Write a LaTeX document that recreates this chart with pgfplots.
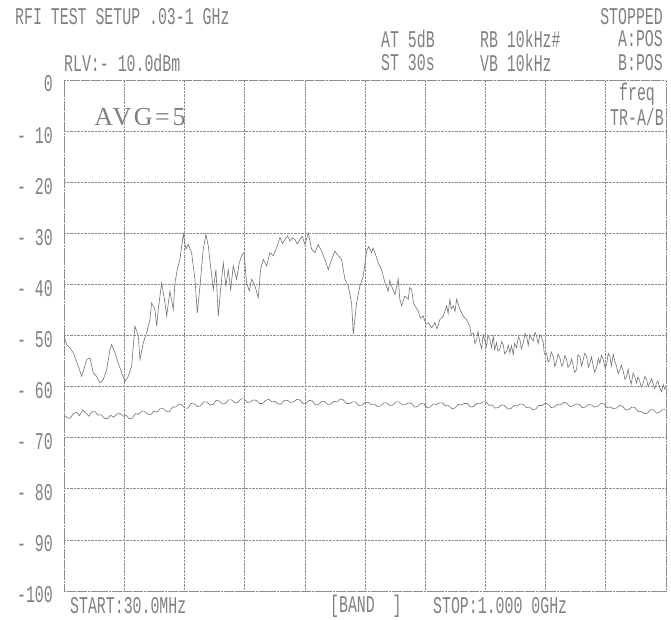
\documentclass[border=0pt]{standalone}
\usepackage{fontspec}
\usepackage{pgfplots}
\pgfplotsset{compat=1.18}
\newfontfamily\lcd[FakeStretch=0.62]{Liberation Mono}
\newfontfamily\avgfont[LetterSpace=10]{Liberation Serif}
\definecolor{scr}{gray}{0.5}
\definecolor{grd}{gray}{0.55}
\definecolor{trc}{gray}{0.45}
\begin{document}
\begin{tikzpicture}[x=1pt,y=1pt]
\useasboundingbox (0,0) rectangle (671,620);
\begin{axis}[
  at={(64pt,29pt)}, anchor=south west,
  scale only axis, width=602pt, height=511pt,
  xmin=30, xmax=1000, ymin=-100, ymax=0,
  xtick={30,127,224,321,418,515,612,709,806,903,1000},
  xticklabels={},
  ytick={-100,-90,...,0},
  yticklabels={-100,- 90,- 80,- 70,- 60,- 50,- 40,- 30,- 20,- 10,0},
  yticklabel style={font=\lcd\fontsize{24}{25}\selectfont, text=scr, anchor=east, inner sep=0pt, xshift=-11pt, yshift=-4pt},
  major tick length=0pt,
  grid=major,
  grid style={grd, densely dotted, line width=0.6pt},
  axis line style={grd, densely dotted, line width=0.6pt},
  clip=true,
]
\addplot[trc, line width=0.6pt, no marks] table {
30 -50.1
34.3 -51.8
40 -52.5
45.0 -53.4
53.1 -56.0
58.4 -58.0
61.1 -57.0
66.5 -54.7
71.9 -54.4
77.2 -57.3
82.6 -58.0
88.0 -59.3
93.3 -58.6
98.7 -56.7
104.1 -52.7
106.8 -51.8
112.1 -53.4
117.5 -55.4
122.9 -57.3
128.2 -59.0
133.6 -58.0
139.0 -56.0
144.3 -48.2
149.7 -50.1
152.4 -54.7
157.8 -51.4
163.1 -49.5
168.5 -46.9
171.2 -43.6
176.6 -44.9
179.3 -48.2
181.9 -44.9
187.3 -39.7
192.7 -43.6
195.4 -46.2
200.7 -41.3
206.1 -44.9
208.8 -39.7
212.5 -37.1
216.8 -35.1
222.2 -30.2
226.5 -33.1
230.3 -32.2
235.6 -33.8
241.0 -39.0
244.8 -45.6
249.1 -40.3
254.4 -33.1
258.7 -30.2
262.5 -32.5
266.2 -36.4
270.5 -41.0
274.8 -37.1
278.6 -46.2
282.9 -40.3
286.7 -35.8
290.9 -40.3
294.7 -37.1
298.5 -41.0
302.8 -36.4
308.1 -39.0
312.4 -35.8
316.2 -34.4
320.0 -33.8
324.2 -39.7
328.5 -41.3
332.3 -39.0
337.7 -40.3
343.0 -42.6
346.8 -37.1
351.1 -35.1
356.5 -36.4
361.8 -33.8
367.2 -34.4
373.6 -32.5
377.9 -30.8
382 -32.0
386.0 -31.2
390 -30.5
394.1 -31.5
398 -30.9
402.1 -31.2
406 -32.1
410.2 -31.2
414 -30.6
418.2 -32.2
423.6 -29.9
429.0 -33.1
434.3 -33.8
439.7 -32.2
445.1 -33.5
450.4 -35.1
455.8 -37.1
461.2 -35.1
466.5 -33.5
471.9 -34.4
477.3 -35.1
482.6 -39.0
488.0 -40.3
493.4 -43.6
496.1 -49.8
501.5 -43.6
506.8 -40.3
512.2 -38.4
517.6 -33.5
521 -32.6
525.6 -33.8
528 -32.9
531.0 -33.8
536.4 -35.8
541.7 -37.1
547.1 -39.7
552.5 -41.3
555 -39.2
557.8 -40.3
563.2 -42.0
566 -40.4
568.6 -39.0
571 -42.8
574.0 -44.2
579.3 -42.3
584.7 -42.9
587 -40.6
590.1 -41.0
593 -43.5
595.4 -44.2
600.8 -45.2
604 -46.6
608.9 -46.2
613 -47.8
616.9 -47.5
622.3 -48.5
627.7 -47.5
631 -48.7
635.7 -46.9
641.1 -46.2
646.5 -44.2
649 -45.7
651.8 -42.9
654 -44.8
657.2 -44.2
660 -45.3
662.6 -42.9
667.9 -44.9
673.3 -46.2
678.7 -46.9
684.0 -48.2
686 -49.8
689.4 -49.5
692 -51.6
694.8 -50.8
697 -49.2
700.2 -51.4
703 -52.6
705.5 -49.8
708 -51.0
710.9 -52.1
713 -49.9
716.3 -50.8
719 -52.4
721.6 -50.1
724 -52.8
727.0 -51.4
729 -53.0
732.4 -52.7
735 -51.2
737.7 -51.8
740 -53.6
743.1 -53.1
746 -51.9
748.5 -53.4
751 -52.0
753.9 -53.7
756 -51.5
759.2 -52.4
762 -50.3
764.6 -50.8
767 -52.6
770.0 -51.4
773 -49.6
775.3 -50.1
778 -51.9
780.7 -49.8
783 -50.5
786.1 -51.1
789 -49.4
791.4 -50.1
794 -51.6
796.8 -49.8
799 -50.2
802.2 -51.4
804 -53.6
807.6 -53.4
810 -55.2
812.9 -54.7
815 -53.2
818.3 -54.1
821 -56.1
823.7 -55.0
826 -53.6
829.0 -54.4
832 -56.0
834.4 -55.4
837 -53.9
839.8 -54.7
842 -56.2
845.1 -55.7
848 -54.6
850.5 -56.0
853 -57.2
855.9 -56.7
858 -53.8
861.3 -54.1
864 -56.0
866.6 -54.7
869 -53.5
872.0 -54.1
875 -56.2
877.4 -55.4
880 -54.2
882.7 -56.0
885 -57.2
888.1 -56.3
891 -54.5
893.5 -55.4
896 -53.9
898.8 -54.7
902 -56.4
904.2 -55.7
907 -53.5
909.6 -54.1
912 -56.0
915.0 -53.7
918 -55.2
920.3 -56.0
923 -57.5
925.7 -56.7
928 -55.8
931.1 -57.0
934 -58.6
936.4 -58.0
939 -56.6
941.8 -58.6
944 -59.5
947.2 -57.3
950 -58.2
952.5 -59.3
955 -58.1
957.9 -59.0
960 -60.1
963.3 -59.3
966 -58.0
968.7 -58.6
971 -59.9
974.0 -59.3
977 -58.4
979.4 -59.6
982 -60.4
984.8 -59.3
987 -58.9
990.1 -60.3
993 -61.0
995.5 -59.6
998 -60.5
1000 -59.9
};
\addplot[trc, line width=0.6pt, no marks] table {
30 -65.5
35 -66.1
40 -66.2
45 -65.3
50 -65.0
55 -65.7
60 -64.6
65 -65.1
70 -65.8
75 -64.9
80 -64.9
85 -65.6
90 -65.5
95 -66.2
100 -66.3
105 -65.6
110 -66.0
115 -65.4
120 -65.2
125 -65.8
130 -65.6
135 -66.3
140 -66.2
145 -65.3
150 -65.4
155 -64.8
160 -64.8
165 -65.4
170 -65.5
175 -64.8
180 -65.0
185 -64.3
190 -64.3
195 -64.9
200 -64.9
205 -64.0
210 -64.0
215 -63.4
220 -63.6
225 -64.2
230 -64.2
235 -63.3
240 -63.4
245 -63.9
250 -63.8
255 -63.0
260 -63.0
265 -63.6
270 -63.5
275 -62.7
280 -62.8
285 -63.4
290 -63.3
295 -62.6
300 -62.6
305 -63.2
310 -63.1
315 -62.4
320 -62.4
325 -63.1
330 -63.0
335 -62.6
340 -62.7
345 -63.3
350 -63.3
355 -62.7
360 -62.5
365 -63.0
370 -62.9
375 -63.4
380 -63.4
385 -62.7
390 -62.7
395 -63.1
400 -63.0
405 -62.5
410 -62.6
415 -63.3
420 -63.2
425 -62.7
430 -62.8
435 -63.6
440 -63.5
445 -62.9
450 -62.9
455 -63.5
460 -63.4
465 -62.9
470 -63.0
475 -62.4
480 -62.6
485 -63.3
490 -63.3
495 -63.0
500 -63.0
505 -63.7
510 -63.6
515 -63.1
520 -63.1
525 -63.5
530 -63.4
535 -63.9
540 -63.8
545 -63.2
550 -63.2
555 -63.7
560 -63.6
565 -63.0
570 -63.0
575 -63.6
580 -63.5
585 -63.2
590 -63.3
595 -64.0
600 -63.9
605 -63.3
610 -63.4
615 -64.1
620 -64.0
625 -63.4
630 -63.5
635 -63.2
640 -63.2
645 -63.8
650 -63.7
655 -64.3
660 -64.2
665 -63.5
670 -63.6
675 -63.3
680 -63.3
685 -64.0
690 -63.9
695 -63.3
700 -63.4
705 -63.0
710 -63.0
715 -63.7
720 -63.6
725 -64.2
730 -64.1
735 -63.6
740 -63.7
745 -64.4
750 -64.3
755 -63.7
760 -63.8
765 -63.4
770 -63.5
775 -64.1
780 -64.0
785 -64.5
790 -64.4
795 -63.7
800 -63.7
805 -63.3
810 -63.4
815 -64.1
820 -64.0
825 -63.5
830 -63.6
835 -63.1
840 -63.2
845 -63.9
850 -63.8
855 -63.4
860 -63.5
865 -64.1
870 -64.0
875 -63.5
880 -63.6
885 -64.0
890 -63.9
895 -63.3
900 -63.4
905 -64.1
910 -64.0
915 -64.3
920 -64.2
925 -63.7
930 -63.8
935 -64.6
940 -64.5
945 -64.0
950 -64.1
955 -64.9
960 -64.8
965 -65.3
970 -65.2
975 -64.5
980 -64.6
985 -65.2
990 -65.0
995 -64.4
1000 -64.4
};
\end{axis}
\tikzset{lcd/.style={text=scr, inner sep=0pt, font=\lcd\fontsize{24}{25}\selectfont}}
\node[lcd, anchor=west] at (15,603) {RFI TEST SETUP .03-1 GHz};
\node[lcd, anchor=east] at (663,603) {STOPPED};
\node[lcd, anchor=west] at (381,581) {AT 5dB};
\node[lcd, anchor=west] at (480,581) {RB 10kHz\#};
\node[lcd, anchor=east] at (663,581) {A:POS};
\node[lcd, anchor=west] at (64,557) {RLV:- 10.0dBm};
\node[lcd, anchor=west] at (381,557) {ST 30s};
\node[lcd, anchor=west] at (480,557) {VB 10kHz};
\node[lcd, anchor=east] at (663,557) {B:POS};
\node[lcd, anchor=center] at (637,526) {freq};
\node[lcd, anchor=center] at (637,503) {TR-A/B};
\node[text=scr, inner sep=0pt, font=\avgfont\fontsize{26}{28}\selectfont] at (140,503) {AVG=5};
\node[lcd, anchor=west] at (70,14) {START:30.0MHz};
\node[lcd, anchor=west] at (330,14) {[BAND\ \ ]};
\node[lcd, anchor=west] at (433,14) {STOP:1.000 0GHz};
\end{tikzpicture}
\end{document}
